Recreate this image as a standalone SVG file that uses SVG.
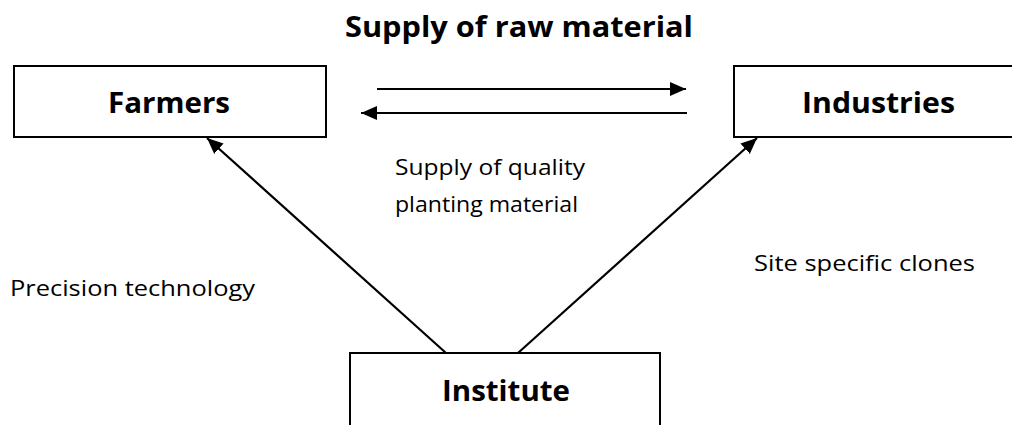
<svg xmlns="http://www.w3.org/2000/svg" width="1012" height="425" viewBox="0 0 1012 425">
<style>
.box{fill:#fff;stroke:#000;stroke-width:2}
.b{font-family:"Open Sans","Liberation Sans",sans-serif;font-weight:bold;font-size:29px;fill:#000}
.r{font-family:"Open Sans","Liberation Sans",sans-serif;font-size:22px;fill:#000}
.c{stroke:#000;stroke-width:2.2;fill:none}
</style>
<defs>
<marker id="ah" markerUnits="userSpaceOnUse" markerWidth="17" markerHeight="15" refX="16" refY="7" orient="auto">
<path d="M0,0 L16,7 L0,14 z" fill="#000"/>
</marker>
</defs>
<rect width="1012" height="425" fill="#fff"/>
<text class="b" x="345" y="37" textLength="348" lengthAdjust="spacingAndGlyphs">Supply of raw material</text>
<g id="farmers">
<rect class="box" x="14" y="66" width="312" height="71"/>
<text class="b" x="108" y="113" textLength="122" lengthAdjust="spacingAndGlyphs">Farmers</text>
</g>
<g id="industries">
<rect class="box" x="734" y="66" width="300" height="71"/>
<text class="b" x="802" y="113" textLength="153" lengthAdjust="spacingAndGlyphs">Industries</text>
</g>
<g id="institute">
<rect class="box" x="350" y="353" width="310" height="100"/>
<text class="b" x="442" y="401" textLength="128" lengthAdjust="spacingAndGlyphs">Institute</text>
</g>
<g id="connectors">
<line class="c" x1="377" y1="89" x2="686" y2="89" marker-end="url(#ah)"/>
<line class="c" x1="687" y1="113" x2="361" y2="113" marker-end="url(#ah)"/>
<line class="c" x1="446" y1="353" x2="207" y2="138" marker-end="url(#ah)"/>
<line class="c" x1="518" y1="353" x2="757" y2="138" marker-end="url(#ah)"/>
</g>
<g id="labels">
<text class="r" x="395" y="175" textLength="190" lengthAdjust="spacingAndGlyphs">Supply of quality</text>
<text class="r" x="395" y="212" textLength="183" lengthAdjust="spacingAndGlyphs">planting material</text>
<text class="r" x="10" y="296" textLength="245" lengthAdjust="spacingAndGlyphs">Precision technology</text>
<text class="r" x="754" y="271" textLength="221" lengthAdjust="spacingAndGlyphs">Site specific clones</text>
</g>
</svg>
